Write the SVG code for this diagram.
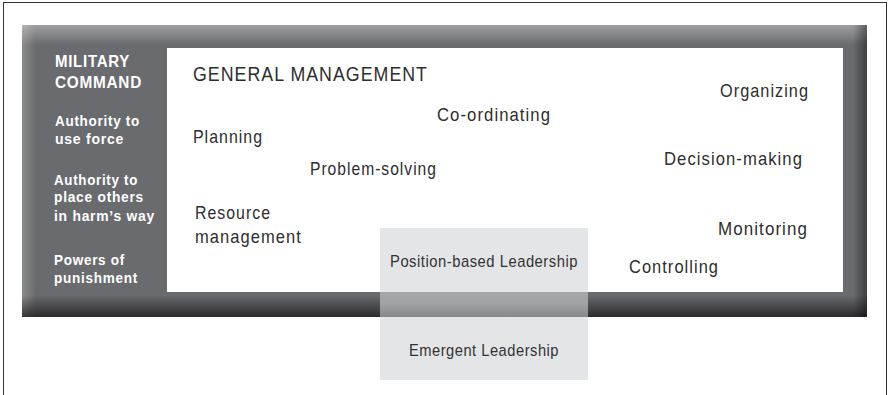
<svg xmlns="http://www.w3.org/2000/svg" width="889" height="395" viewBox="0 0 889 395">
  <defs>
    <linearGradient id="edgeTop" x1="0" y1="0" x2="0" y2="1">
      <stop offset="0" stop-color="#ffffff" stop-opacity="0.35"/>
      <stop offset="1" stop-color="#ffffff" stop-opacity="0"/>
    </linearGradient>
    <linearGradient id="edgeLeft" x1="0" y1="0" x2="1" y2="0">
      <stop offset="0" stop-color="#ffffff" stop-opacity="0.22"/>
      <stop offset="1" stop-color="#ffffff" stop-opacity="0"/>
    </linearGradient>
    <linearGradient id="edgeRight" x1="0" y1="0" x2="1" y2="0">
      <stop offset="0" stop-color="#000000" stop-opacity="0"/>
      <stop offset="1" stop-color="#000000" stop-opacity="0.4"/>
    </linearGradient>
    <linearGradient id="edgeBottom" x1="0" y1="0" x2="0" y2="1">
      <stop offset="0" stop-color="#000000" stop-opacity="0"/>
      <stop offset="1" stop-color="#000000" stop-opacity="0.6"/>
    </linearGradient>
    <linearGradient id="bandOverlap" x1="0" y1="0" x2="0" y2="1">
      <stop offset="0" stop-color="#a6a7a9"/>
      <stop offset="0.45" stop-color="#a2a3a5"/>
      <stop offset="1" stop-color="#87888a"/>
    </linearGradient>
  </defs>
  <style>
    .cmd { font-family: "Liberation Sans", Arial, sans-serif; font-weight: bold; fill: #ffffff; letter-spacing: 0.8px; }
    .cmd-title { font-size: 17px; }
    .cmd-item { font-size: 15px; }
    .mgmt { font-family: "Liberation Sans", Arial, sans-serif; fill: #2e2e2e; font-size: 19px; letter-spacing: 1.2px; }
    .mgmt-title { font-size: 21px; }
    .lead { font-family: "Liberation Sans", Arial, sans-serif; fill: #333333; font-size: 17px; letter-spacing: 0.6px; }
  </style>

  <!-- page frame -->
  <rect x="0" y="0" width="889" height="395" fill="#ffffff"/>
  <rect x="3.5" y="2.5" width="883" height="400" fill="none" stroke="#333333" stroke-width="1"/>

  <!-- military command: shaded outer band with its text column -->
  <g id="military-command">
    <rect x="22" y="25" width="845" height="292" fill="#6a6b6f"/>
    <rect x="22" y="25" width="845" height="20" fill="url(#edgeTop)"/>
    <rect x="22" y="25" width="14" height="292" fill="url(#edgeLeft)"/>
    <rect x="853" y="25" width="14" height="292" fill="url(#edgeRight)"/>
    <rect x="22" y="295" width="845" height="22" fill="url(#edgeBottom)"/>
    <text class="cmd cmd-title" x="55" y="67" textLength="75" lengthAdjust="spacingAndGlyphs">MILITARY</text>
    <text class="cmd cmd-title" x="55" y="88" textLength="87" lengthAdjust="spacingAndGlyphs">COMMAND</text>
    <text class="cmd cmd-item" x="55" y="126" textLength="85" lengthAdjust="spacingAndGlyphs">Authority to</text>
    <text class="cmd cmd-item" x="55" y="144" textLength="69" lengthAdjust="spacingAndGlyphs">use force</text>
    <text class="cmd cmd-item" x="54" y="185" textLength="84" lengthAdjust="spacingAndGlyphs">Authority to</text>
    <text class="cmd cmd-item" x="54" y="202" textLength="90" lengthAdjust="spacingAndGlyphs">place others</text>
    <text class="cmd cmd-item" x="54" y="221" textLength="101" lengthAdjust="spacingAndGlyphs">in harm’s way</text>
    <text class="cmd cmd-item" x="54" y="265" textLength="71" lengthAdjust="spacingAndGlyphs">Powers of</text>
    <text class="cmd cmd-item" x="54" y="283" textLength="84" lengthAdjust="spacingAndGlyphs">punishment</text>
  </g>

  <!-- general management: white field with its activities -->
  <g id="general-management">
    <rect x="167" y="48" width="676" height="244" fill="#ffffff"/>
    <text class="mgmt mgmt-title" x="193" y="81" textLength="235" lengthAdjust="spacingAndGlyphs">GENERAL MANAGEMENT</text>
    <text class="mgmt" x="193" y="143" textLength="70" lengthAdjust="spacingAndGlyphs">Planning</text>
    <text class="mgmt" x="437" y="121" textLength="114" lengthAdjust="spacingAndGlyphs">Co-ordinating</text>
    <text class="mgmt" x="310" y="175" textLength="127" lengthAdjust="spacingAndGlyphs">Problem-solving</text>
    <text class="mgmt" x="720" y="97" textLength="89" lengthAdjust="spacingAndGlyphs">Organizing</text>
    <text class="mgmt" x="664" y="165" textLength="139" lengthAdjust="spacingAndGlyphs">Decision-making</text>
    <text class="mgmt" x="195" y="219" textLength="76" lengthAdjust="spacingAndGlyphs">Resource</text>
    <text class="mgmt" x="195" y="243" textLength="107" lengthAdjust="spacingAndGlyphs">management</text>
    <text class="mgmt" x="718" y="235" textLength="90" lengthAdjust="spacingAndGlyphs">Monitoring</text>
    <text class="mgmt" x="629" y="273" textLength="90" lengthAdjust="spacingAndGlyphs">Controlling</text>
  </g>

  <!-- leadership: light box spanning the band, darker where it crosses it -->
  <g id="leadership">
    <rect x="380" y="228" width="208" height="152" fill="#e4e5e7"/>
    <rect x="380" y="292" width="208" height="25" fill="url(#bandOverlap)"/>
    <text class="lead" x="390" y="267" textLength="188" lengthAdjust="spacingAndGlyphs">Position-based Leadership</text>
    <text class="lead" x="409" y="356" textLength="150" lengthAdjust="spacingAndGlyphs">Emergent Leadership</text>
  </g>
</svg>
